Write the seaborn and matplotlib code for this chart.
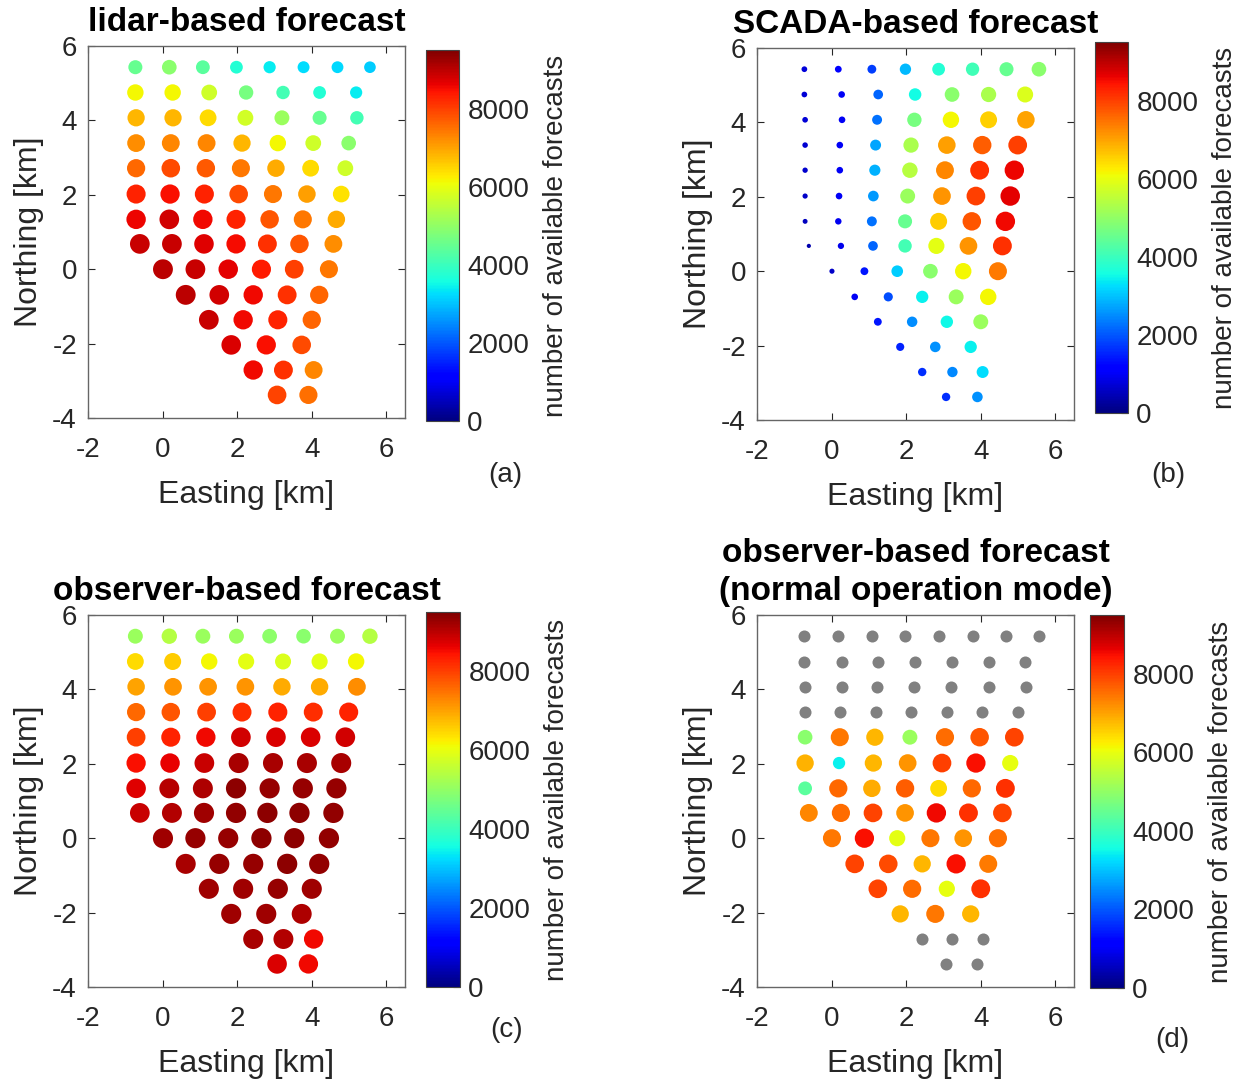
import numpy as np
import pandas as pd
import matplotlib
matplotlib.use("Agg")
import matplotlib.pyplot as plt
from matplotlib.cm import ScalarMappable
import seaborn as sns

sns.set_style("ticks")
plt.rcParams['font.family'] = ['Liberation Sans', 'DejaVu Sans']
plt.rcParams['axes.unicode_minus'] = False

# turbine positions [km]
east = [-0.73, 0.18, 1.08, 1.98, 2.87, 3.78, 4.69, 5.56,
        -0.73, 0.27, 1.25, 2.24, 3.23, 4.21, 5.19,
        -0.71, 0.28, 1.22, 2.22, 3.20, 4.21, 5.21,
        -0.71, 0.22, 1.18, 2.13, 3.09, 4.04, 4.99,
        -0.71, 0.22, 1.16, 2.10, 3.04, 3.97, 4.90,
        -0.71, 0.20, 1.12, 2.04, 2.96, 3.87, 4.79,
        -0.71, 0.18, 1.08, 1.97, 2.87, 3.76, 4.66,
        -0.61, 0.25, 1.11, 1.97, 2.81, 3.67, 4.58,
        0.01, 0.88, 1.76, 2.65, 3.53, 4.46,
        0.62, 1.52, 2.43, 3.34, 4.20,
        1.24, 2.16, 3.09, 4.00,
        1.84, 2.78, 3.73,
        2.43, 3.24, 4.05,
        3.07, 3.91]
north = [5.43] * 8 + [4.75] * 7 + [4.07] * 7 + [3.39] * 7 + [2.715] * 7 + \
        [2.02] * 7 + [1.34] * 7 + [0.68] * 7 + [0.0] * 6 + [-0.69] * 5 + \
        [-1.36] * 4 + [-2.035] * 3 + [-2.71] * 3 + [-3.38] * 2

lidar = [4500, 4900, 4350, 3720, 3400, 3250, 3200, 3090,
         6150, 6150, 5680, 4700, 4110, 3720, 3400,
         6800, 6800, 6450, 5750, 5090, 4500, 4110,
         7230, 7280, 7280, 6800, 6150, 5680, 4900,
         7580, 7870, 7750, 7450, 6935, 6450, 5680,
         8300, 8480, 8300, 7870, 7450, 7020, 6350,
         8600, 8810, 8550, 8300, 7790, 7450, 6935,
         8870, 8900, 8710, 8500, 8130, 7790, 7230,
         9010, 8900, 8660, 8380, 8000, 7450,
         9010, 8810, 8550, 8130, 7630,
         8870, 8540, 8300, 7630,
         8730, 8470, 7870,
         8540, 8130, 7280,
         7950, 7520]

scada = [750, 1050, 1780, 2930, 3720, 4050, 4500, 4900,
         740, 1000, 2140, 3550, 4900, 5300, 5850,
         730, 1000, 2250, 4700, 6150, 6550, 7000,
         700, 1000, 2730, 5300, 7050, 7700, 8000,
         650, 1000, 2850, 5450, 7280, 8130, 8580,
         620, 1000, 2600, 5090, 7130, 8000, 8660,
         550, 950, 2250, 4500, 6590, 7790, 8570,
         400, 900, 2140, 4110, 5950, 7130, 8130,
         600, 1400, 3090, 4900, 6150, 7400,
         1000, 1900, 3450, 5090, 6150,
         1400, 2500, 3500, 5090,
         1500, 2550, 3450,
         1600, 2450, 3250,
         1600, 2550]

observer = [5090, 5400, 5090, 5090, 4950, 4900, 5090, 5400,
            6450, 6590, 6150, 5950, 5850, 5950, 6150,
            7000, 7130, 7150, 7130, 6935, 6935, 7230,
            7580, 7790, 8000, 8200, 8300, 8200, 8300,
            8000, 8300, 8540, 8810, 8730, 8730, 8810,
            8470, 8630, 8870, 9150, 9150, 9150, 9150,
            8710, 9040, 9100, 9380, 9290, 9290, 9290,
            8870, 9070, 9230, 9350, 9380, 9380, 9350,
            9230, 9290, 9290, 9380, 9380, 9350,
            9150, 9290, 9290, 9380, 9350,
            9230, 9230, 9290, 9230,
            9240, 9240, 9100,
            9150, 9070, 8550,
            8730, 8550]

nan = np.nan
observer_normal = [nan] * 8 + [nan] * 7 + [nan] * 7 + [nan] * 7 + \
    [4900, 7450, 6800, 5090, 7550, 7790, 7950,
     6850, 3450, 6800, 7150, 8000, 8470, 6000,
     4350, 7580, 6935, 7700, 6450, 7580, 8130,
     7280, 7550, 7950, 7130, 8550, 8130, 7950,
     7450, 8470, 5950, 7450, 7130, 7500,
     7950, 7870, 6800, 8470, 7400,
     7950, 7550, 6000, 8130,
     6800, 7450, 6800] + [nan] * 3 + [nan] * 2

titles = ["lidar-based forecast", "SCADA-based forecast",
          "observer-based forecast", "observer-based forecast\n(normal operation mode)"]
letters = ["(a)", "(b)", "(c)", "(d)"]

vmax = 9500
W, H = 1241, 1082
fig = plt.figure(figsize=(W / 100, H / 100), dpi=100)

def box(x0, y0, x1, y1):
    return [x0 / W, 1 - y1 / H, (x1 - x0) / W, (y1 - y0) / H]

ax_boxes = [box(88, 46, 405, 418), box(757, 48, 1074, 420),
            box(88, 615, 405, 987), box(757, 615, 1074, 987)]
cb_boxes = [box(426, 50, 459, 421), box(1095, 42, 1128, 413),
            box(426, 612, 460, 987), box(1090, 615, 1124, 988)]
letter_pos = [(505, 475), (1168, 475), (507, 1030), (1172, 1040)]

txt = '#262626'
jet = plt.get_cmap('jet')
norm = plt.Normalize(0, vmax)

for i, vals in enumerate([lidar, scada, observer, observer_normal]):
    df = pd.DataFrame({'E': east, 'N': north, 'n': vals})
    ax = fig.add_axes(ax_boxes[i])
    missing = df[df['n'].isna()]
    if len(missing):
        sns.scatterplot(data=missing, x='E', y='N', color='#808080', s=75,
                        linewidth=0, ax=ax)
    sns.scatterplot(data=df.dropna(), x='E', y='N', hue='n', size='n',
                    palette=jet, hue_norm=norm, sizes=(0, vmax / 44),
                    size_norm=(0, vmax), linewidth=0, legend=False, ax=ax)
    ax.set_xlim(-2, 6.5)
    ax.set_ylim(-4, 6)
    ax.set_xticks([-2, 0, 2, 4, 6])
    ax.set_yticks([-4, -2, 0, 2, 4, 6])
    ax.tick_params(direction='in', top=True, right=True, length=5,
                   labelsize=20, colors=txt)
    ax.tick_params(axis='x', pad=14)
    ax.tick_params(axis='y', pad=8)
    for sp in ax.spines.values():
        sp.set_visible(True)
        sp.set_color('#666666')
        sp.set_linewidth(1)
    ax.set_xlabel('Easting [km]', fontsize=23, color=txt, labelpad=12)
    ax.set_ylabel('Northing [km]', fontsize=23, color=txt, labelpad=6)
    ax.set_title(titles[i], fontsize=24, fontweight='bold', color='black',
                 pad=11, linespacing=1.3)

    cax = fig.add_axes(cb_boxes[i])
    cb = fig.colorbar(ScalarMappable(norm=norm, cmap=jet), cax=cax)
    cb.set_ticks([0, 2000, 4000, 6000, 8000])
    cb.ax.tick_params(direction='in', length=5, labelsize=20, colors=txt, pad=6)
    cb.outline.set_edgecolor('#444444')
    cb.set_label('number of available forecasts', fontsize=20, color=txt,
                 labelpad=10)

    fig.text(letter_pos[i][0] / W, 1 - letter_pos[i][1] / H, letters[i],
             ha='center', va='center', fontsize=20, color=txt)

fig.savefig('out.png', dpi=100)
